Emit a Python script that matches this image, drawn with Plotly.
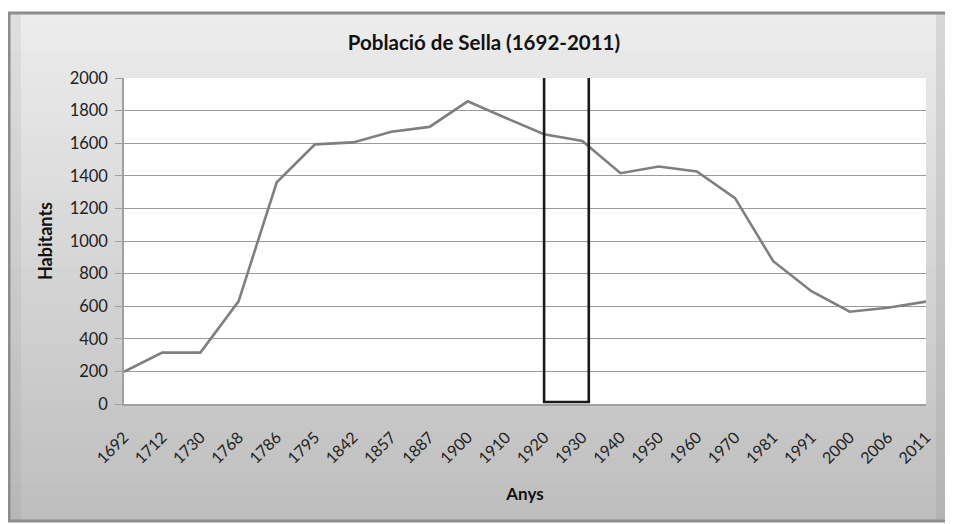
import plotly.graph_objects as go

years = ["1692", "1712", "1730", "1768", "1786", "1795", "1842", "1857", "1887", "1900",
         "1910", "1920", "1930", "1940", "1950", "1960", "1970", "1981", "1991", "2000",
         "2006", "2011"]
habitants = [198, 315, 315, 630, 1360, 1593, 1605, 1670, 1700, 1857,
             1755, 1655, 1614, 1416, 1457, 1427, 1263, 876, 692, 566,
             590, 628]
y_ticks = list(range(0, 2001, 200))
highlight_from = "1920"
highlight_to = "1930"

# page has an 8px body margin, so the figure is drawn 8px smaller and offset
OFF = 8
W, H = 953 - OFF, 524 - OFF
ML, MT = 124 - OFF, 78 - OFF
MR = W - (926 - OFF)
MB = H - (404 - OFF)
PW, PH = W - ML - MR, H - MT - MB

def px_x(p):
    return (p - OFF - ML) / PW

def px_y(p):
    return (H - MB - (p - OFF)) / PH

fig = go.Figure()
fig.add_trace(go.Scatter(
    x=years, y=habitants, mode="lines",
    line=dict(color="#7f7f7f", width=2.6),
    hoverinfo="x+y", showlegend=False,
))

shapes = []
# outer chart frame with vertical gradient
fx0, fx1, fy0, fy1 = 9, 948, 13, 521
n = 40
c_top, c_bot = (236, 236, 236), (190, 190, 190)
for i in range(n):
    t = i / (n - 1)
    c = tuple(int(round(c_top[k] + (c_bot[k] - c_top[k]) * t)) for k in range(3))
    ya = fy0 + (fy1 - fy0) * i / n
    yb = fy0 + (fy1 - fy0) * (i + 1) / n + 0.6
    shapes.append(dict(type="rect", xref="paper", yref="paper", layer="below",
                       x0=px_x(fx0), x1=px_x(fx1), y0=px_y(ya), y1=px_y(yb),
                       fillcolor="rgb(%d,%d,%d)" % c, line=dict(width=0)))
# darker side bands
shapes.append(dict(type="rect", xref="paper", yref="paper", layer="below",
                   x0=px_x(936), x1=px_x(948), y0=px_y(fy0), y1=px_y(fy1),
                   fillcolor="rgba(150,150,150,0.25)", line=dict(width=0)))
shapes.append(dict(type="rect", xref="paper", yref="paper", layer="below",
                   x0=px_x(fx0), x1=px_x(fx0 + 12), y0=px_y(fy0), y1=px_y(fy1),
                   fillcolor="rgba(150,150,150,0.15)", line=dict(width=0)))
shapes.append(dict(type="rect", xref="paper", yref="paper", layer="below",
                   x0=px_x(fx0), x1=px_x(fx1), y0=px_y(fy0), y1=px_y(fy1),
                   fillcolor="rgba(0,0,0,0)", line=dict(color="#8c8c8c", width=3)))
# white plot area
shapes.append(dict(type="rect", xref="paper", yref="paper", layer="below",
                   x0=0, x1=1, y0=0, y1=1, fillcolor="white", line=dict(width=0)))
# highlight rectangle
i0 = years.index(highlight_from)
i1 = years.index(highlight_to)
shapes.append(dict(type="rect", xref="x", yref="y", layer="above",
                   x0=i0, x1=i1 + 0.17, y0=12, y1=2028,
                   fillcolor="rgba(0,0,0,0)", line=dict(color="#1a1a1a", width=2.6)))

font_family = "Lato, 'Open Sans', sans-serif"
fig.update_layout(
    width=W, height=H,
    margin=dict(l=ML, r=MR, t=MT, b=MB, autoexpand=False),
    paper_bgcolor="white",
    plot_bgcolor="rgba(0,0,0,0)",
    font=dict(family=font_family, color="#1e1e1e", size=16),
    title=dict(text="<b>Població de Sella (1692-2011)</b>",
               x=(484 - OFF) / W, xref="container", xanchor="center",
               y=1 - (43 - OFF) / H, yanchor="middle", yref="container",
               font=dict(size=20.5, family=font_family, color="#111")),
    shapes=shapes,
    xaxis=dict(
        type="category", categoryorder="array", categoryarray=years,
        range=[0, len(years) - 1],
        tickangle=-45, tickfont=dict(size=16, color="#222"),
        showgrid=False, showline=True, linecolor="#a0a0a0", linewidth=1.5,
        ticks="", ticklabelstandoff=16,
        title=dict(text="<b>Anys</b>", font=dict(size=17, color="#111"), standoff=22),
        zeroline=False, fixedrange=True,
    ),
    yaxis=dict(
        range=[0, 2000], tickvals=y_ticks, ticktext=[str(v) for v in y_ticks],
        tickfont=dict(size=16.5, color="#222"),
        showgrid=True, gridcolor="#9a9a9a", gridwidth=1.4,
        showline=True, linecolor="#a0a0a0", linewidth=1.5,
        ticks="outside", ticklen=7, tickcolor="#a0a0a0", tickwidth=1.4,
        ticklabelstandoff=4,
        title=dict(text="<b>Habitants</b>", font=dict(size=18, color="#111"), standoff=12),
        zeroline=False, fixedrange=True,
    ),
)

fig.write_html("out.html")
